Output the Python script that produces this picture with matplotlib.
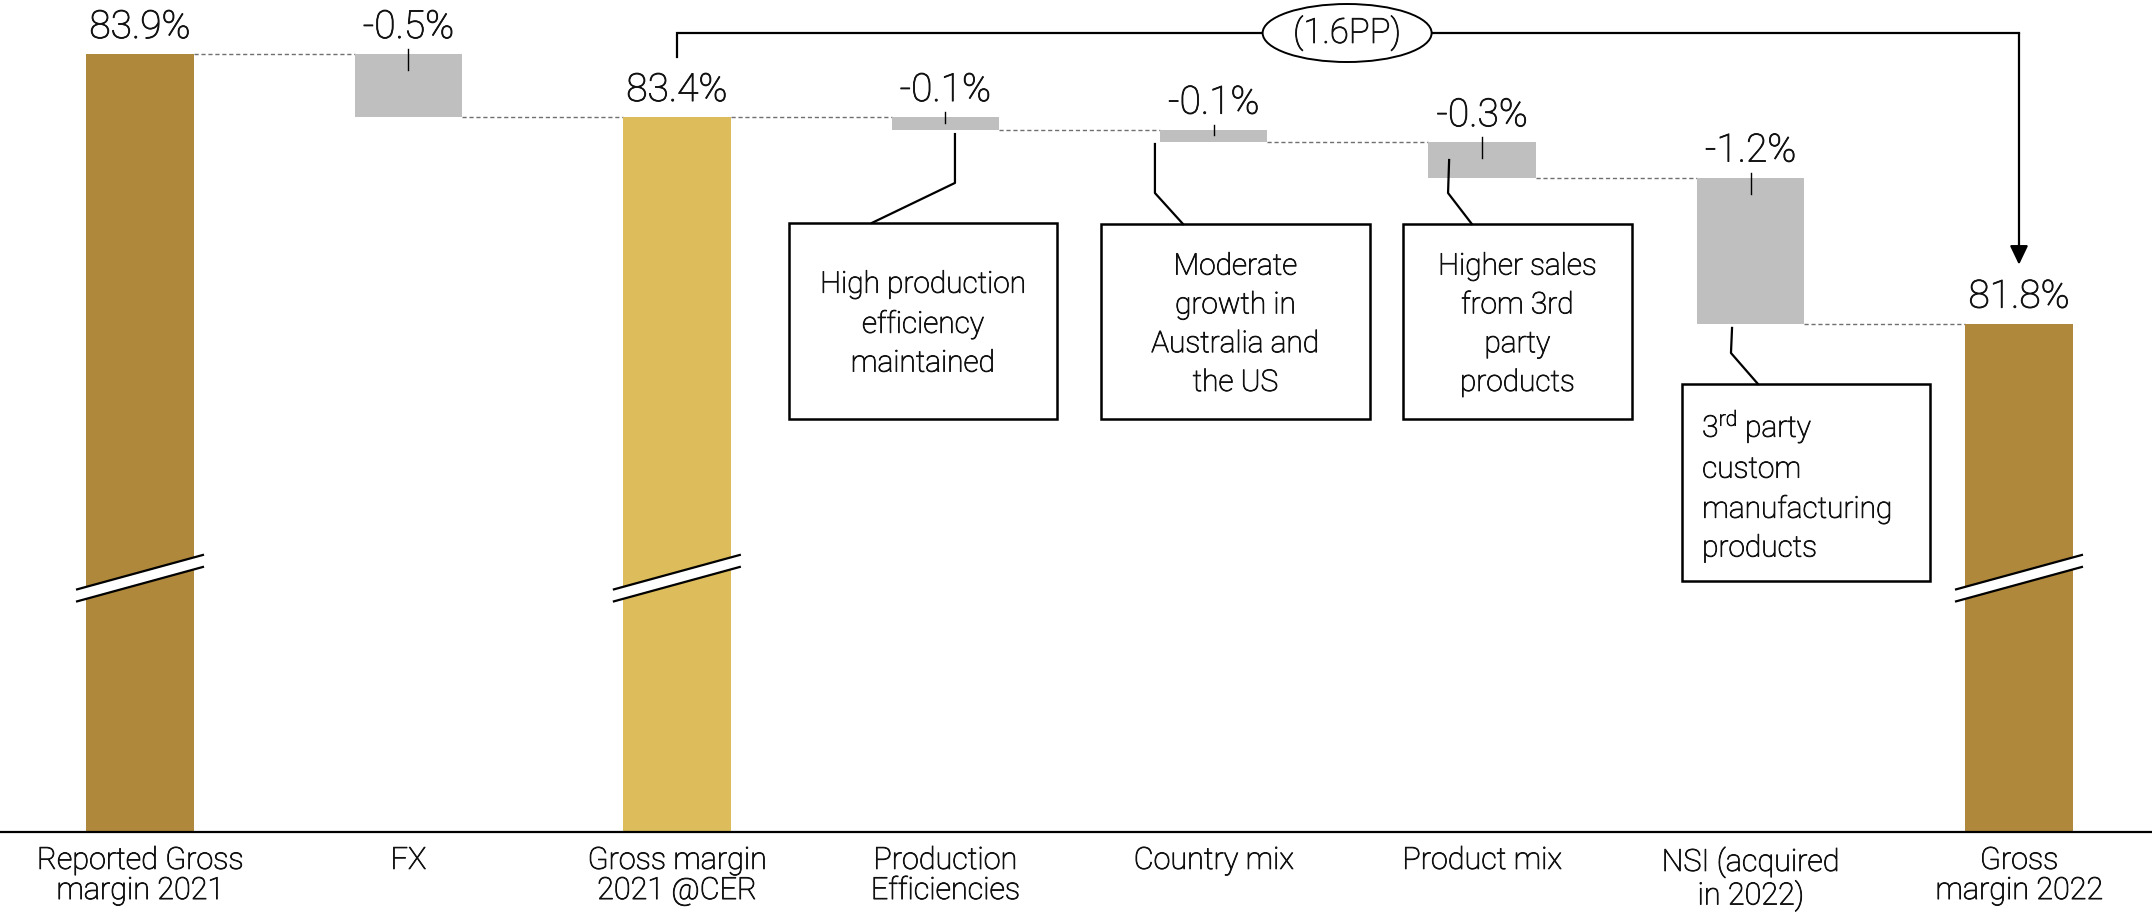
import matplotlib.pyplot as plt
import matplotlib.patheffects as pe
from matplotlib.patches import Ellipse, Polygon, Rectangle

# ── Data ──────────────────────────────────────────────────────────────────────

categories = [
    "Reported Gross\nmargin 2021",
    "FX",
    "Gross margin\n2021 @CER",
    "Production\nEfficiencies",
    "Country mix",
    "Product mix",
    "NSI (acquired\nin 2022)",
    "Gross\nmargin 2022",
]
# "total" bars stand on the (broken) axis floor, "delta" bars float
kinds = ["total", "delta", "total", "delta", "delta", "delta", "delta", "total"]
values = [83.9, -0.5, 83.4, -0.10, -0.10, -0.28, -1.16, 81.76]

notes = {
    3: "High production\nefficiency\nmaintained",
    4: "Moderate\ngrowth in\nAustralia and\nthe US",
    5: "Higher sales\nfrom 3rd\nparty\nproducts",
    6: "3$^{\\mathrm{rd}}$ party\ncustom\nmanufacturing\nproducts",
}
change_label = "(1.6PP)"

# ── Style ─────────────────────────────────────────────────────────────────────

C_TOTAL = "#AF883C"
C_CER = "#DDBC5B"
C_DELTA = "#BFBFBF"
C_DASH = "#707070"
C_TEXT = "#111111"

plt.rcParams["font.family"] = ["Roboto", "DejaVu Sans"]
plt.rcParams["font.weight"] = "light"
plt.rcParams["mathtext.fontset"] = "custom"
plt.rcParams["mathtext.rm"] = "Roboto:light"
plt.rcParams["mathtext.it"] = "Roboto:light"

# light face, slightly thickened so it reads a little darker
TXT_FX = [pe.withStroke(linewidth=0.6, foreground=C_TEXT)]

FLOOR, YTOP = 77.725, 84.329
XMIN, XMAX = -0.5216, 7.4955
BAR_W = 0.40

fig = plt.figure(figsize=(21.52, 9.13), dpi=100)
ax = fig.add_axes([0, 0.0887, 1, 0.9113])
ax.set_xlim(XMIN, XMAX)
ax.set_ylim(FLOOR, YTOP)

bb = ax.get_window_extent()
xpp = (XMAX - XMIN) / bb.width    # data units per pixel
ypp = (YTOP - FLOOR) / bb.height

# ── Waterfall geometry ────────────────────────────────────────────────────────

bottoms, heights, tops, levels = [], [], [], []
level = None
for k, v in zip(kinds, values):
    if k == "total":
        bottoms.append(FLOOR)
        heights.append(v - FLOOR)
        tops.append(v)
        level = v
    else:
        bottoms.append(level + v)
        heights.append(-v)
        tops.append(level)
        level += v
    levels.append(level)

colors = []
for i, k in enumerate(kinds):
    if k == "delta":
        colors.append(C_DELTA)
    elif i == 2:
        colors.append(C_CER)
    else:
        colors.append(C_TOTAL)

xs = list(range(len(categories)))
ax.bar(xs, heights, bottom=bottoms, width=BAR_W, color=colors, zorder=3)

# dashed connectors between bars
for i in range(len(xs) - 1):
    ax.plot([i + BAR_W / 2, i + 1 - BAR_W / 2], [levels[i], levels[i]],
            color=C_DASH, lw=1.0, ls=(0, (3, 2)), zorder=2)

# value labels + small ticks on the floating bars
for i, (k, v) in enumerate(zip(kinds, values)):
    ax.annotate(f"{v:.1f}%", xy=(i, tops[i]), xytext=(0, 11.5),
                textcoords="offset points", ha="center", va="baseline",
                fontsize=28, color=C_TEXT, path_effects=TXT_FX, zorder=5)
    if k == "delta":
        h_px = heights[i] / ypp
        down = min(16, 0.45 * h_px)
        ax.plot([i, i], [tops[i] + 5 * ypp, tops[i] - down * ypp],
                color="black", lw=1.0, zorder=4)

# axis break marks on the total bars
bx, rise, gap = 64 * xpp, 17.5 * ypp, 6 * ypp
YBREAK = 79.74
for i, k in enumerate(kinds):
    if k != "total":
        continue
    x0, x1 = i - bx, i + bx
    ax.add_patch(Polygon([(x0, YBREAK - rise + gap), (x1, YBREAK + rise + gap),
                          (x1, YBREAK + rise - gap), (x0, YBREAK - rise - gap)],
                         closed=True, facecolor="white", edgecolor="none", zorder=4))
    for s in (gap, -gap):
        ax.plot([x0, x1], [YBREAK - rise + s, YBREAK + rise + s],
                color="black", lw=1.6, zorder=5, solid_capstyle="butt")

# ── Commentary boxes and leader lines ────────────────────────────────────────

boxes = {
    3: (2.418, 3.416, 82.56, 81.00),
    4: (3.580, 4.582, 82.55, 81.00),
    5: (4.705, 5.558, 82.55, 81.00),
    6: (5.745, 6.668, 81.28, 79.72),
}
leaders = {
    3: [(3.036, 83.265), (3.036, 82.877), (2.727, 82.56)],
    4: [(3.781, 83.186), (3.781, 82.797), (3.886, 82.55)],
    5: [(4.877, 83.059), (4.873, 82.797), (4.962, 82.55)],
    6: [(5.931, 81.726), (5.927, 81.527), (6.028, 81.28)],
}
for i, text in notes.items():
    x0, x1, ytop, ybot = boxes[i]
    ax.add_patch(Rectangle((x0, ybot), x1 - x0, ytop - ybot, facecolor="white",
                           edgecolor="black", lw=1.8, zorder=6))
    ymid = (ytop + ybot) / 2 - 3 * ypp
    if i == 6:
        ax.text(x0 + 20 * xpp, ymid, text, ha="left", va="center",
                fontsize=21.5, linespacing=1.49, color=C_TEXT,
                path_effects=TXT_FX, zorder=7)
    else:
        ax.text((x0 + x1) / 2, ymid, text, ha="center", va="center",
                fontsize=21.5, linespacing=1.49, color=C_TEXT,
                path_effects=TXT_FX, zorder=7)
    lx, ly = zip(*leaders[i])
    ax.plot(lx, ly, color="black", lw=1.6, zorder=6)

# ── Overall change bracket ────────────────────────────────────────────────────

BRACKET_Y = 84.067
x_start, x_end = 2, 7
ax.plot([x_start, x_start, x_end], [83.877, BRACKET_Y, BRACKET_Y],
        color="black", lw=1.6, zorder=6, solid_joinstyle="miter")
ax.annotate("", xy=(x_end, values[-1] + 0.468), xytext=(x_end, BRACKET_Y),
            arrowprops=dict(arrowstyle="-|>,head_length=1.15,head_width=0.55",
                            lw=1.6, color="black", shrinkA=0, shrinkB=0,
                            mutation_scale=10), zorder=6)
ex = 4.497
ax.add_patch(Ellipse((ex, BRACKET_Y), 169 * xpp, 58 * ypp, facecolor="white",
                     edgecolor="black", lw=1.4, zorder=7))
ax.text(ex, BRACKET_Y, change_label, ha="center", va="center", fontsize=25,
        color=C_TEXT, path_effects=TXT_FX, zorder=8)

# ── Axes ──────────────────────────────────────────────────────────────────────

ax.set_xticks(xs)
ax.set_xticklabels(categories, fontsize=22, linespacing=1.05, color=C_TEXT)
for lbl in ax.get_xticklabels():
    lbl.set_path_effects(TXT_FX)
ax.tick_params(axis="x", length=0, pad=10)
ax.set_yticks([])
for name, spine in ax.spines.items():
    spine.set_visible(name == "bottom")
ax.spines["bottom"].set_linewidth(1.6)
ax.spines["bottom"].set_zorder(6)

fig.savefig("out.png", dpi=100, facecolor="white")
